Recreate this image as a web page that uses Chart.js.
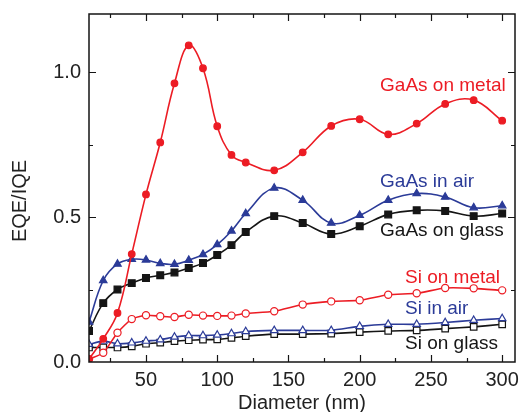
<!DOCTYPE html>
<html>
<head>
<meta charset="utf-8">
<script src="https://cdn.jsdelivr.net/npm/chart.js@4/dist/chart.umd.min.js"></script>
<style>
html,body{margin:0;padding:0;background:#fff;}
#wrap{width:521px;height:412px;}
</style>
</head>
<body>
<div id="wrap"><canvas id="eqe"></canvas></div>
<script>

// DATA

const diameters = [10,20,30,40,50,60,70,80,90,100,110,120,140,160,180,200,220,240,260,280,300];

const gaasMetal = [0.01,0.08,0.169,0.372,0.578,0.757,0.961,1.092,1.013,0.813,0.714,0.688,0.661,0.723,0.814,0.837,0.785,0.822,0.890,0.903,0.832];
const gaasAir   = [0.138,0.281,0.338,0.354,0.352,0.340,0.337,0.351,0.371,0.405,0.452,0.512,0.600,0.558,0.479,0.506,0.558,0.581,0.569,0.532,0.539];
const gaasGlass = [0.107,0.203,0.250,0.272,0.290,0.299,0.309,0.324,0.341,0.369,0.403,0.448,0.503,0.479,0.441,0.468,0.509,0.523,0.521,0.503,0.512];
const siMetal   = [0.01,0.032,0.101,0.148,0.161,0.158,0.155,0.163,0.160,0.159,0.160,0.167,0.175,0.198,0.209,0.213,0.232,0.237,0.255,0.254,0.247];
const siAir     = [0.061,0.072,0.063,0.066,0.072,0.077,0.086,0.091,0.091,0.093,0.098,0.105,0.109,0.109,0.109,0.123,0.130,0.130,0.136,0.144,0.150];
const siGlass   = [0.050,0.050,0.050,0.054,0.063,0.067,0.072,0.075,0.077,0.078,0.083,0.089,0.096,0.096,0.098,0.103,0.107,0.109,0.115,0.121,0.130];

const seriesNames = ["GaAs on metal","GaAs in air","GaAs on glass","Si on metal","Si in air","Si on glass"];

const xTicks = [50,100,150,200,250,300];
const xMinor = [25,75,125,175,225,275];
const yTicks = [0,0.5,1.0];
const yMinor = [0.25,0.75];
const yTickLabels = ["0.0","0.5","1.0"];

const xTitle = "Diameter (nm)";
const yTitle = "EQE/IQE";


// STYLE

const RED = "#ec1c24";
const BLUE = "#2b3b98";
const BLACK = "#151515";
const FONT = "Liberation Sans, Arial, sans-serif";

// where the in-plot series labels sit (data coords, left aligned)
const labelSpots = [
  {x:214.3, y:0.954, color:RED},
  {x:214.3, y:0.623, color:BLUE},
  {x:214.3, y:0.454, color:BLACK},
  {x:231.8, y:0.289, color:RED},
  {x:231.8, y:0.182, color:BLUE},
  {x:231.8, y:0.064, color:BLACK}
];

function series(label, values, color, style, filled, radius, tension){
  return {
    label: label,
    data: values.map((v, i) => ({x: diameters[i], y: v})),
    borderColor: color,
    backgroundColor: color,
    borderWidth: 1.6,
    pointStyle: style,
    pointRadius: radius,
    pointBorderWidth: 1.2,
    pointBorderColor: color,
    pointBackgroundColor: filled ? color : "#fff",
    tension: tension,
    fill: false
  };
}


// FRAME, INWARD TICKS, LABELS

const framePlugin = {
  id: "frame",
  afterDraw(chart){
    const ctx = chart.ctx;
    const a = chart.chartArea;
    const xs = chart.scales.x;
    const ys = chart.scales.y;

    ctx.save();
    ctx.strokeStyle = BLACK;
    ctx.lineWidth = 1.5;
    ctx.strokeRect(a.left, a.top, a.right - a.left, a.bottom - a.top);

    ctx.lineWidth = 1.2;
    ctx.beginPath();
    function xt(v, len){
      const p = Math.round(xs.getPixelForValue(v)) + 0.5;
      ctx.moveTo(p, a.bottom); ctx.lineTo(p, a.bottom - len);
      ctx.moveTo(p, a.top); ctx.lineTo(p, a.top + len);
    }
    function yt(v, len){
      const p = Math.round(ys.getPixelForValue(v)) + 0.5;
      ctx.moveTo(a.left, p); ctx.lineTo(a.left + len, p);
      ctx.moveTo(a.right, p); ctx.lineTo(a.right - len, p);
    }
    xTicks.forEach(v => xt(v, 7));
    xMinor.forEach(v => xt(v, 4));
    yTicks.forEach(v => { if(v > 0) yt(v, 7); });
    yMinor.forEach(v => yt(v, 4));
    ctx.stroke();

    // series names inside the plot
    ctx.font = "19px " + FONT;
    ctx.textAlign = "left";
    ctx.textBaseline = "middle";
    labelSpots.forEach((s, i) => {
      ctx.fillStyle = s.color;
      ctx.fillText(seriesNames[i], xs.getPixelForValue(s.x), ys.getPixelForValue(s.y));
    });

    // axis titles
    ctx.fillStyle = "#222";
    ctx.font = "20px " + FONT;
    ctx.textAlign = "center";
    ctx.fillText(xTitle, (a.left + a.right) / 2, 403);

    ctx.translate(20, 201);
    ctx.rotate(-Math.PI / 2);
    ctx.fillText(yTitle, 0, 0);
    ctx.restore();
  }
};


new Chart(document.getElementById("eqe"), {
  type: "line",
  data: {
    datasets: [
      series(seriesNames[0], gaasMetal, RED, "circle", true, 3.3, 0.4),
      series(seriesNames[1], gaasAir, BLUE, "triangle", true, 4.3, 0.4),
      series(seriesNames[2], gaasGlass, BLACK, "rect", true, 4.8, 0.4),
      series(seriesNames[3], siMetal, RED, "circle", false, 3.6, 0.2),
      series(seriesNames[4], siAir, BLUE, "triangle", false, 4.3, 0.2),
      series(seriesNames[5], siGlass, BLACK, "rect", false, 4.6, 0.2)
    ]
  },
  options: {
    responsive: true,
    maintainAspectRatio: false,
    animation: false,
    devicePixelRatio: 1,
    layout: {padding: {left: 0, right: 4, top: 14, bottom: 0}},
    plugins: {
      legend: {display: false},
      tooltip: {enabled: false}
    },
    scales: {
      x: {
        type: "linear",
        min: 10,
        max: 309,
        grid: {display: false, drawTicks: false},
        border: {display: false},
        afterFit(scale){
          scale.height = 50;
          scale.paddingLeft = 0;
          scale.paddingRight = 0;
        },
        afterBuildTicks(scale){ scale.ticks = xTicks.map(v => ({value: v})); },
        ticks: {
          color: "#222",
          padding: 6,
          maxRotation: 0,
          font: {family: FONT, size: 20},
          callback: v => String(v)
        }
      },
      y: {
        type: "linear",
        min: 0,
        max: 1.2,
        grid: {display: false, drawTicks: false},
        border: {display: false},
        afterFit(scale){
          scale.width = 89;
          scale.paddingTop = 0;
          scale.paddingBottom = 0;
        },
        afterBuildTicks(scale){ scale.ticks = yTicks.map(v => ({value: v})); },
        ticks: {
          color: "#222",
          padding: 8,
          font: {family: FONT, size: 20},
          callback: v => yTickLabels[yTicks.indexOf(v)]
        }
      }
    }
  },
  plugins: [framePlugin]
});

</script>
</body>
</html>
